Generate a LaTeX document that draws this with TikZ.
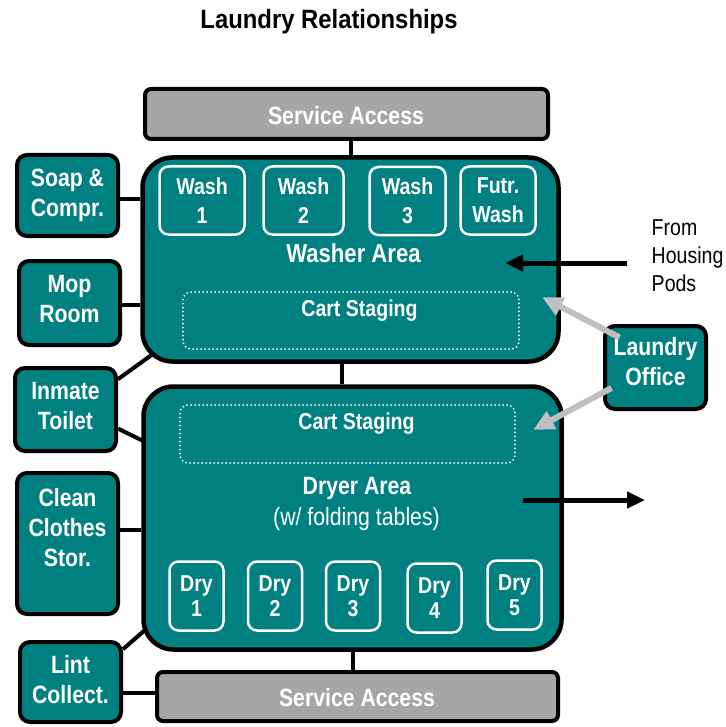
\documentclass[tikz,border=0pt]{standalone}
\usepackage{fontspec}
\setmainfont{Liberation Sans}[FakeStretch=0.85]
\newfontfamily\titlefont{Liberation Sans}[FakeStretch=0.9]
\usetikzlibrary{arrows.meta,backgrounds,calc}
\definecolor{tealbg}{RGB}{0,128,128}
\definecolor{svcgray}{RGB}{166,166,166}
\definecolor{arrowgray}{RGB}{191,191,191}
\tikzset{
  area/.style={draw=black, line width=4.5pt, fill=tealbg, rounded corners=30pt, inner sep=0pt},
  room/.style={draw=black, line width=4pt, fill=tealbg, rounded corners=10pt, text=white,
    font=\bfseries\fontsize{25}{30}\selectfont, align=center, inner sep=0pt,
    minimum width=101pt},
  unit/.style={draw=white, line width=2.5pt, rounded corners=9pt, text=white,
    font=\bfseries\fontsize{23}{29}\selectfont, align=center, inner sep=0pt, minimum height=68pt},
  drybox/.style={unit, font=\bfseries\fontsize{23}{25}\selectfont, minimum width=54pt, minimum height=69pt},
  service/.style={draw=black, line width=4pt, fill=svcgray, rounded corners=6pt, text=white,
    font=\bfseries\fontsize{25}{30}\selectfont, inner sep=0pt},
  staging/.style={draw=white, line width=2pt, dash pattern=on 0pt off 4pt, line cap=round, rounded corners=8pt, inner sep=0pt},
  lbl/.style={text=white, font=\bfseries\fontsize{25}{30}\selectfont, inner sep=0pt},
  link/.style={draw=black, line width=4pt},
  grayarrow/.style={draw=arrowgray, line width=6pt, -{Triangle[length=21pt,width=19pt]}},
  blackarrow/.style={draw=black, line width=5pt, -{Triangle[length=18pt,width=16pt]}}
}
\begin{document}
\begin{tikzpicture}[x=1pt,y=-1pt]
\useasboundingbox (0,0) rectangle (725,727);
% title
\node[inner sep=0pt, font=\titlefont\bfseries\fontsize{26.5}{30}\selectfont] (title) at (329,22) {Laundry Relationships};
% service accesses
\node[service, minimum width=403pt, minimum height=50pt] (svcTop) at (346.5,114) {};
\node[lbl] (svcToplbl) at (346,116) {Service Access};
\node[service, minimum width=401pt, minimum height=49pt] (svcBot) at (357.5,696.5) {};
\node[lbl] (svcBotlbl) at (357,698) {Service Access};
% main areas
\node[area, minimum width=416pt, minimum height=204pt] (washer) at (350.5,259.5) {};
\node[area, minimum width=418pt, minimum height=263pt] (dryer) at (352.5,518) {};
% washer content
\node[unit, minimum width=85pt] (wash1) at (202,200.5) {Wash\\1};
\node[unit, minimum width=80pt] (wash2) at (303.5,200.5) {Wash\\2};
\node[unit, minimum width=76pt] (wash3) at (407.5,201) {Wash\\3};
\node[unit, minimum width=75pt] (futr) at (498,200.5) {Futr.\\Wash};
\node[lbl, font=\bfseries\fontsize{26}{30}\selectfont] (washerlbl) at (353.5,253) {Washer Area};
\node[staging, minimum width=336pt, minimum height=57pt] (stageW) at (351,320.5) {};
\node[lbl, font=\bfseries\fontsize{23}{28}\selectfont] (stageWlbl) at (359.5,311) {Cart Staging};
% dryer content
\node[staging, minimum width=335pt, minimum height=58pt] (stageD) at (347.5,434) {};
\node[lbl, font=\bfseries\fontsize{23}{28}\selectfont] (stageDlbl) at (356.5,424) {Cart Staging};
\node[lbl, font=\bfseries\fontsize{25}{30}\selectfont] (dryerlbl) at (357,488) {Dryer Area};
\node[lbl, font=\fontsize{25}{30}\selectfont] (dryersub) at (356.5,519) {(w/ folding tables)};
\node[drybox] (dry1) at (196.5,596) {Dry\\1};
\node[drybox] (dry2) at (275,596) {Dry\\2};
\node[drybox] (dry3) at (353,596) {Dry\\3};
\node[drybox] (dry4) at (434.5,598) {Dry\\4};
\node[drybox] (dry5) at (514.5,595) {Dry\\5};
% side rooms
\node[room, minimum height=81pt] (soap) at (67.5,195.5) {};
\node[lbl, align=center] (soaplbl) at (67.5,195) {Soap \&\\Compr.};
\node[room, minimum height=84pt] (mop) at (69.5,303) {};
\node[lbl, align=center] (moplbl) at (69.5,299.5) {Mop\\Room};
\node[room, minimum height=83pt] (inmate) at (65.5,409.5) {};
\node[lbl, align=center] (inmatelbl) at (65.5,406) {Inmate\\Toilet};
\node[room, minimum height=141pt] (clean) at (67.5,543.5) {};
\node[lbl, align=center] (cleanlbl) at (67.5,527.5) {Clean\\Clothes\\Stor.};
\node[room, minimum height=80pt] (lint) at (70.5,682) {};
\node[lbl, align=center] (lintlbl) at (70.5,679.5) {Lint\\Collect.};
\node[room, minimum height=83pt] (office) at (655.5,367.5) {};
\node[lbl, align=center] (officelbl) at (655.5,362) {Laundry\\Office};
% housing text
\node[inner sep=0pt, anchor=west, align=left, font=\fontsize{23}{28}\selectfont] (housing) at (651.5,256) {From\\Housing\\Pods};
% connectors (behind)
\begin{scope}[on background layer]
  \draw[link] (washer.north |- svcTop.south) -- (washer.north);
  \draw[link] ([xshift=-8.5pt]washer.south) -- ([xshift=-8.5pt]washer.south |- dryer.north);
  \draw[link] (dryer.south |- svcBot.north) -- (dryer.south);
  \draw[link] ([yshift=-4pt]soap.east) -- ([yshift=-4pt]soap.east -| washer.west);
  \draw[link] ([yshift=-2pt]mop.east) -- ([yshift=-2pt]mop.east -| washer.west);
  \draw[link] (inmate.30) -- ($(washer.south west)+(20,-15)$);
  \draw[link] (inmate.-20) -- ($(dryer.north west)+(25,68)$);
  \draw[link] ([yshift=13.5pt]clean.east) -- ([yshift=13.5pt]clean.east -| dryer.west);
  \draw[link] (lint.32) -- ($(dryer.south west)+(19,-35)$);
  \draw[link] ([yshift=-11pt]lint.east) -- ([yshift=-11pt]lint.east -| svcBot.west);
\end{scope}
% arrows
\coordinate (tipW) at (542,297);
\coordinate (tipD) at (533,430);
\coordinate (housingStart) at (627,263);
\coordinate (housingEnd) at (505,263);
\coordinate (outStart) at (523,500);
\coordinate (outEnd) at (645,500);
\draw[grayarrow] ($(office.center)+(-36,-30)$) -- (tipW);
\draw[grayarrow] ($(office.center)+(-44,20.5)$) -- (tipD);
\draw[blackarrow] (housingStart) -- (housingEnd);
\draw[blackarrow] (outStart) -- (outEnd);
\end{tikzpicture}
\end{document}
